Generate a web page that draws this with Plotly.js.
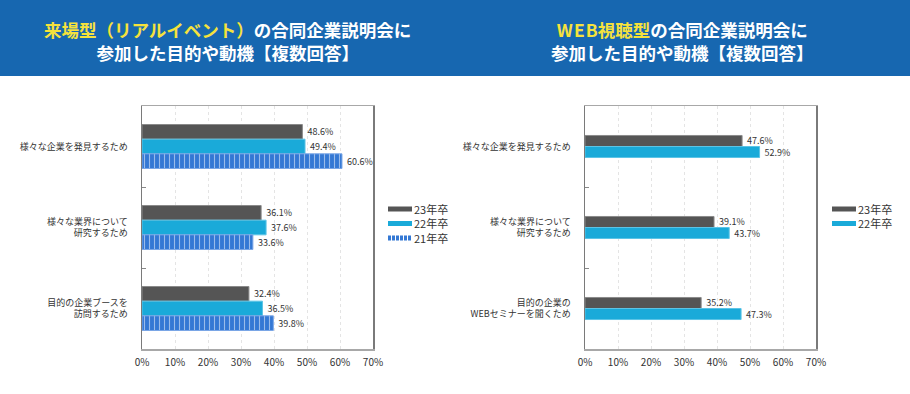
<!DOCTYPE html>
<html><head><meta charset="utf-8">
<script src="https://cdn.plot.ly/plotly-3.0.1.min.js"></script>
<style>html,body{margin:0;padding:0;background:#fff}#chart{width:910px;height:394px}</style>
</head><body><div id="chart"></div>
<script>
// ---- data ----
const leftCategories = ['様々な企業を発見するため', '様々な業界について<br>研究するため', '目的の企業ブースを<br>訪問するため'];
const rightCategories = ['様々な企業を発見するため', '様々な業界について<br>研究するため', '目的の企業の<br>WEBセミナーを聞くため'];
const leftSeriesNames = ['23年卒', '22年卒', '21年卒'];
const left23 = [48.6, 36.1, 32.4];
const left22 = [49.4, 37.6, 36.5];
const left21 = [60.6, 33.6, 39.8];
const rightSeriesNames = ['23年卒', '22年卒'];
const right23 = [47.6, 39.1, 35.2];
const right22 = [52.9, 43.7, 47.3];
const xTickValues = [0, 10, 20, 30, 40, 50, 60, 70];
const xTickLabels = ['0%', '10%', '20%', '30%', '40%', '50%', '60%', '70%'];
const leftTitle1 = '<span style="color:#f5e23c">来場型（リアルイベント）</span>の合同企業説明会に';
const rightTitle1 = '<span style="color:#f5e23c">W&#8202;E&#8202;B視聴型</span>の合同企業説明会に';
const title2 = '参加した目的や動機【複数回答】';

// ---- styling ----
const W = 910, H = 394;
const px = v => v / W;
const py = v => 1 - v / H;
const FONT = "'Noto Sans CJK JP', 'Liberation Sans', sans-serif";
const C23 = '#555555', C22 = '#1aaad9', C21 = '#3478d4';
const TXT = '#333333';

function bar(cats, vals, name, color, xa, ya, width, offset, pattern) {
  const m = {color: color, line: {width: 1, color: color === C23 ? '#8a8a8a' : (color === C22 ? '#5cc4e6' : '#7aa6e6')}};
  if (pattern) m.pattern = pattern;
  return {
    type: 'bar', orientation: 'h', y: cats, x: vals, name: name,
    xaxis: xa, yaxis: ya, width: width, offset: offset, marker: m,
    texttemplate: '\u00a0%{x:.1f}%', textposition: 'outside', constraintext: 'none',
    textfont: {size: 9, color: TXT, family: FONT}, cliponaxis: false,
    hoverinfo: 'skip', showlegend: false
  };
}

const wl = 0.181, wr = 0.136;
const traces = [
  bar(leftCategories, left23, leftSeriesNames[0], C23, 'x', 'y', wl, -1.5 * wl),
  bar(leftCategories, left22, leftSeriesNames[1], C22, 'x', 'y', wl, -0.5 * wl),
  bar(leftCategories, left21, leftSeriesNames[2], C21, 'x', 'y', wl, 0.5 * wl,
      {shape: '|', size: 5, solidity: 0.22, fgcolor: '#ffffff', fillmode: 'overlay'}),
  bar(rightCategories, right23, rightSeriesNames[0], C23, 'x2', 'y2', wr, -wr),
  bar(rightCategories, right22, rightSeriesNames[1], C22, 'x2', 'y2', wr, 0),
];

function xax(d0, d1, anchor) {
  return {
    domain: [px(d0), px(d1)], anchor: anchor, range: [0, 70],
    tickvals: xTickValues, ticktext: xTickLabels, ticks: '', ticklabelstandoff: 3,
    showgrid: true, gridcolor: '#e4e4e4', griddash: 'dot', gridwidth: 1,
    showline: true, mirror: true, linecolor: '#a8a8a8', linewidth: 1.5,
    zeroline: false, tickfont: {size: 10, color: TXT, family: FONT}, fixedrange: true
  };
}
function yax(anchor) {
  return {
    domain: [py(349), py(106)], anchor: anchor, type: 'category', range: [2.5, -0.5],
    tickson: 'boundaries', ticks: 'inside', ticklen: 4, tickcolor: '#888888',
    showline: true, mirror: true, linecolor: '#7a7a7a', linewidth: 1.5,
    showgrid: false, zeroline: false, ticklabelstandoff: 11,
    tickfont: {size: 9, color: TXT, family: FONT}, fixedrange: true
  };
}

const shapes = [
  {type: 'rect', xref: 'paper', yref: 'paper', x0: 0, x1: 1, y0: py(76), y1: 1,
   fillcolor: '#1767b0', line: {width: 0}, layer: 'below'}
];
const annotations = [];
function title(cx, t1, t2) {
  annotations.push({xref: 'paper', yref: 'paper', x: px(cx), y: py(40.5), xanchor: 'center', yanchor: 'middle',
    text: t1 + '<br>' + t2, showarrow: false, borderpad: 0,
    font: {size: 17.5, color: '#ffffff', family: FONT, weight: 700}});
}
title(227.5, leftTitle1, title2);
title(682, rightTitle1, title2);

function legend(x0, names, colors, dashes) {
  names.forEach((n, i) => {
    const yy = 209 + i * 14.5;
    shapes.push({type: 'line', xref: 'paper', yref: 'paper', x0: px(x0), x1: px(x0 + 24), y0: py(yy), y1: py(yy),
      line: {color: colors[i], width: 5, dash: dashes[i] || 'solid'}});
  });
  const midY = 209 + (names.length - 1) * 14.5 / 2;
  annotations.push({xref: 'paper', yref: 'paper', x: px(x0 + 25), y: py(midY), xanchor: 'left', yanchor: 'middle',
    align: 'left', text: names.join('<br>'), showarrow: false, borderpad: 0,
    font: {size: 11, color: TXT, family: FONT}});
}
legend(388, leftSeriesNames, [C23, C22, C21], [null, null, '3px,1px']);
legend(832, rightSeriesNames, [C23, C22], [null, null]);

const layout = {
  width: W, height: H, margin: {l: 0, r: 0, t: 0, b: 0},
  paper_bgcolor: '#ffffff', plot_bgcolor: '#ffffff',
  font: {family: FONT, color: TXT},
  barmode: 'group', showlegend: false,
  xaxis: xax(142, 373, 'y'), yaxis: yax('x'),
  xaxis2: xax(585, 816, 'y2'), yaxis2: yax('x2'),
  shapes: shapes, annotations: annotations
};
Plotly.newPlot('chart', traces, layout, {displayModeBar: false, staticPlot: true});
</script></body></html>
